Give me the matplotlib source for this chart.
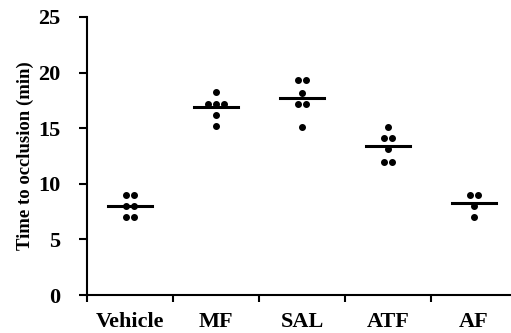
import numpy as np
from matplotlib import pyplot as plt

groups = ["Vehicle", "MF", "SAL", "ATF", "AF"]

# time to occlusion (min) per animal
vehicle = [9, 9, 8, 8, 7, 7]
mf = [18.3, 17.2, 17.2, 17.2, 16.2, 15.2]
sal = [19.3, 19.3, 18.2, 17.2, 17.2, 15.1]
atf = [15.1, 14.1, 14.1, 13.1, 12.0, 12.0]
af = [9, 9, 8, 7]

all_vals = [vehicle, mf, sal, atf, af]

plt.rcParams['font.family'] = ['Liberation Serif']
plt.rcParams['font.weight'] = 'bold'

fig = plt.figure(figsize=(5.11, 3.33), dpi=100)
ax = fig.add_axes([0.170, 0.114, 1.012 - 0.170, 0.949 - 0.114])


def spread(vals, step=0.045):
    # place equal values side by side like the original dot plot
    xs = []
    vals = list(vals)
    for i, v in enumerate(vals):
        same = [j for j, w in enumerate(vals) if w == v]
        k = same.index(i)
        n = len(same)
        xs.append((k - (n - 1) / 2) * step * 2)
    return np.array(xs)


for i, vals in enumerate(all_vals):
    pos = i + 1
    ax.plot(pos + spread(vals), vals, 'o', color='black', markersize=4.0, zorder=3)
    ax.plot([pos - 0.26, pos + 0.26], [np.mean(vals)] * 2, color='black', lw=2.2, zorder=4)

ax.set_xlim(0.5, 5.5)
ax.set_ylim(0, 25)
ax.set_yticks([0, 5, 10, 15, 20, 25])
ax.set_xticks([0.5, 1.5, 2.5, 3.5, 4.5])
ax.set_xticklabels([])
ax.set_xticks([1, 2, 3, 4, 5], minor=True)
ax.set_xticklabels(groups, minor=True, fontsize=16, fontweight='bold')
ax.tick_params(axis='x', which='minor', length=0, pad=12)
ax.tick_params(axis='x', which='major', length=5, width=1.5, direction='out')
ax.tick_params(axis='y', length=6, width=1.5, labelsize=16, pad=13)
for lab in ax.get_yticklabels():
    lab.set_fontweight('bold')

ax.spines['top'].set_visible(False)
ax.spines['right'].set_visible(False)
ax.spines['left'].set_linewidth(1.5)
ax.spines['bottom'].set_linewidth(1.5)

ax.set_ylabel("Time to occlusion (min)", fontsize=13.5, fontweight='bold', labelpad=3)

plt.savefig("out.png", dpi=100)
